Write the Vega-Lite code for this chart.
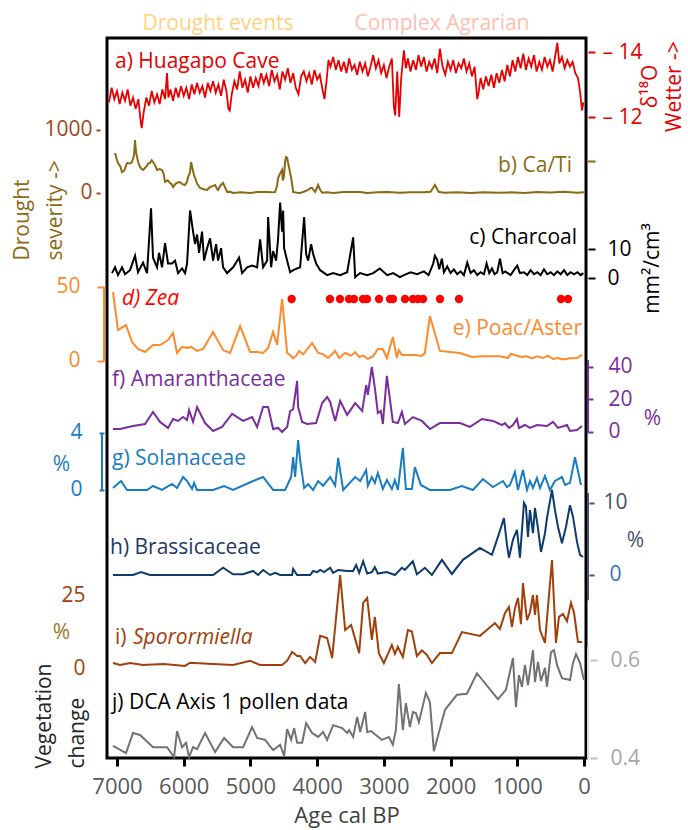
{
"$schema": "https://vega.github.io/schema/vega-lite/v6.json",
"width": 479, "height": 720,
"autosize": "none",
"padding": {"left": 107, "top": 38, "right": 102, "bottom": 72},
"background": "white",
"config": {
  "font": "Open Sans",
  "view": {"stroke": "black", "strokeWidth": 3},
  "axis": {"grid": false, "domain": false, "labelFont": "Open Sans", "titleFont": "Open Sans", "labelFontSize": 21, "titleFontSize": 21, "titleFontWeight": "normal", "labelFlush": false, "labelOverlap": false, "tickWidth": 2},
  "axisX": {"labelColor": "#595959", "labelFontSize": 22, "titleFontSize": 22, "tickColor": "black", "tickWidth": 3, "tickSize": 8, "labelPadding": 10, "titleColor": "#404040", "titlePadding": 8},
  "text": {"font": "Open Sans", "fontSize": 21},
  "line": {"strokeWidth": 2}
},
"datasets": {
  "hua": [{"t":7120,"v":-12.45},{"t":7080,"v":-12.9},{"t":7040,"v":-12.55},{"t":7000,"v":-12.8},{"t":6960,"v":-12.4},{"t":6920,"v":-12.75},{"t":6880,"v":-12.5},{"t":6840,"v":-12.85},{"t":6800,"v":-12.35},{"t":6760,"v":-12.6},{"t":6720,"v":-12.25},{"t":6680,"v":-12.55},{"t":6650,"v":-11.95},{"t":6630,"v":-11.66},{"t":6600,"v":-12.15},{"t":6560,"v":-12.6},{"t":6520,"v":-12.35},{"t":6480,"v":-12.8},{"t":6440,"v":-12.45},{"t":6400,"v":-12.7},{"t":6360,"v":-12.4},{"t":6320,"v":-12.85},{"t":6280,"v":-12.55},{"t":6250,"v":-13.35},{"t":6230,"v":-12.6},{"t":6200,"v":-12.85},{"t":6160,"v":-12.5},{"t":6120,"v":-12.9},{"t":6080,"v":-12.6},{"t":6040,"v":-12.95},{"t":6000,"v":-12.65},{"t":5960,"v":-12.9},{"t":5920,"v":-12.55},{"t":5880,"v":-13.0},{"t":5840,"v":-12.7},{"t":5800,"v":-13.05},{"t":5760,"v":-12.75},{"t":5720,"v":-12.95},{"t":5680,"v":-12.6},{"t":5640,"v":-13.05},{"t":5600,"v":-12.8},{"t":5560,"v":-13.1},{"t":5520,"v":-12.75},{"t":5480,"v":-13.0},{"t":5440,"v":-12.65},{"t":5400,"v":-13.15},{"t":5360,"v":-12.8},{"t":5330,"v":-12.25},{"t":5310,"v":-12.2},{"t":5280,"v":-12.7},{"t":5240,"v":-13.1},{"t":5200,"v":-12.85},{"t":5160,"v":-13.4},{"t":5120,"v":-12.9},{"t":5080,"v":-13.15},{"t":5040,"v":-12.75},{"t":5000,"v":-13.25},{"t":4960,"v":-12.9},{"t":4920,"v":-13.2},{"t":4880,"v":-12.95},{"t":4840,"v":-13.35},{"t":4800,"v":-13.05},{"t":4760,"v":-13.3},{"t":4720,"v":-12.95},{"t":4680,"v":-13.45},{"t":4640,"v":-13.1},{"t":4600,"v":-13.3},{"t":4560,"v":-12.85},{"t":4520,"v":-13.4},{"t":4480,"v":-13.15},{"t":4440,"v":-13.5},{"t":4400,"v":-13.05},{"t":4360,"v":-13.35},{"t":4320,"v":-12.9},{"t":4280,"v":-12.7},{"t":4240,"v":-13.25},{"t":4200,"v":-13.4},{"t":4160,"v":-13.1},{"t":4120,"v":-13.35},{"t":4080,"v":-13.0},{"t":4040,"v":-13.45},{"t":4000,"v":-13.15},{"t":3960,"v":-13.3},{"t":3920,"v":-12.85},{"t":3890,"v":-12.55},{"t":3860,"v":-13.1},{"t":3830,"v":-13.75},{"t":3800,"v":-13.55},{"t":3760,"v":-13.85},{"t":3720,"v":-13.45},{"t":3680,"v":-13.75},{"t":3640,"v":-13.4},{"t":3600,"v":-13.7},{"t":3560,"v":-13.35},{"t":3520,"v":-13.8},{"t":3480,"v":-13.45},{"t":3440,"v":-13.6},{"t":3400,"v":-13.3},{"t":3360,"v":-13.7},{"t":3320,"v":-13.4},{"t":3280,"v":-13.65},{"t":3240,"v":-13.25},{"t":3200,"v":-13.55},{"t":3160,"v":-13.9},{"t":3120,"v":-13.5},{"t":3080,"v":-13.75},{"t":3040,"v":-13.35},{"t":3000,"v":-13.6},{"t":2960,"v":-13.2},{"t":2920,"v":-13.55},{"t":2880,"v":-13.8},{"t":2850,"v":-12.3},{"t":2830,"v":-12.05},{"t":2800,"v":-13.4},{"t":2770,"v":-12.0},{"t":2740,"v":-13.2},{"t":2700,"v":-14.05},{"t":2670,"v":-13.5},{"t":2640,"v":-13.8},{"t":2600,"v":-13.4},{"t":2560,"v":-13.75},{"t":2520,"v":-13.45},{"t":2480,"v":-13.9},{"t":2440,"v":-13.55},{"t":2400,"v":-13.85},{"t":2360,"v":-13.4},{"t":2320,"v":-13.7},{"t":2280,"v":-13.5},{"t":2240,"v":-13.8},{"t":2200,"v":-13.35},{"t":2160,"v":-14.1},{"t":2120,"v":-13.55},{"t":2080,"v":-13.3},{"t":2040,"v":-13.7},{"t":2000,"v":-13.45},{"t":1960,"v":-13.75},{"t":1920,"v":-13.35},{"t":1880,"v":-13.65},{"t":1840,"v":-13.5},{"t":1800,"v":-13.8},{"t":1760,"v":-13.4},{"t":1720,"v":-13.65},{"t":1680,"v":-13.25},{"t":1640,"v":-13.55},{"t":1600,"v":-12.55},{"t":1580,"v":-12.75},{"t":1550,"v":-13.2},{"t":1510,"v":-12.85},{"t":1470,"v":-13.25},{"t":1430,"v":-12.95},{"t":1390,"v":-13.3},{"t":1350,"v":-12.9},{"t":1310,"v":-13.35},{"t":1270,"v":-13.05},{"t":1230,"v":-13.45},{"t":1190,"v":-13.1},{"t":1150,"v":-13.6},{"t":1110,"v":-13.25},{"t":1070,"v":-13.75},{"t":1030,"v":-13.4},{"t":990,"v":-13.85},{"t":950,"v":-13.5},{"t":910,"v":-13.95},{"t":870,"v":-13.45},{"t":830,"v":-13.8},{"t":790,"v":-13.55},{"t":750,"v":-13.9},{"t":710,"v":-13.4},{"t":670,"v":-13.7},{"t":630,"v":-13.45},{"t":590,"v":-13.85},{"t":550,"v":-13.55},{"t":510,"v":-13.75},{"t":470,"v":-13.4},{"t":430,"v":-13.9},{"t":400,"v":-14.28},{"t":370,"v":-13.65},{"t":330,"v":-13.85},{"t":290,"v":-13.5},{"t":250,"v":-13.75},{"t":210,"v":-13.55},{"t":170,"v":-13.7},{"t":130,"v":-13.35},{"t":90,"v":-13.2},{"t":60,"v":-12.8},{"t":30,"v":-12.2},{"t":10,"v":-12.45}],
  "cati": [{"t":7030,"v":635},{"t":7000,"v":520},{"t":6985,"v":476},{"t":6950,"v":420},{"t":6925,"v":333},{"t":6890,"v":360},{"t":6850,"v":476},{"t":6800,"v":470},{"t":6775,"v":492},{"t":6745,"v":600},{"t":6730,"v":841},{"t":6715,"v":650},{"t":6700,"v":571},{"t":6680,"v":480},{"t":6655,"v":413},{"t":6630,"v":380},{"t":6610,"v":365},{"t":6560,"v":420},{"t":6530,"v":470},{"t":6506,"v":476},{"t":6480,"v":520},{"t":6460,"v":492},{"t":6430,"v":440},{"t":6400,"v":365},{"t":6360,"v":380},{"t":6325,"v":365},{"t":6300,"v":300},{"t":6280,"v":175},{"t":6240,"v":200},{"t":6205,"v":159},{"t":6180,"v":140},{"t":6160,"v":95},{"t":6120,"v":150},{"t":6080,"v":170},{"t":6056,"v":175},{"t":6020,"v":140},{"t":5980,"v":127},{"t":5950,"v":180},{"t":5935,"v":254},{"t":5905,"v":330},{"t":5890,"v":492},{"t":5875,"v":420},{"t":5850,"v":300},{"t":5830,"v":238},{"t":5800,"v":150},{"t":5755,"v":79},{"t":5700,"v":60},{"t":5650,"v":48},{"t":5620,"v":80},{"t":5605,"v":95},{"t":5570,"v":110},{"t":5530,"v":127},{"t":5500,"v":60},{"t":5485,"v":48},{"t":5450,"v":120},{"t":5410,"v":159},{"t":5380,"v":90},{"t":5350,"v":16},{"t":5300,"v":20},{"t":5260,"v":0},{"t":5150,"v":10},{"t":5005,"v":0},{"t":4900,"v":15},{"t":4750,"v":16},{"t":4680,"v":10},{"t":4630,"v":16},{"t":4600,"v":120},{"t":4585,"v":238},{"t":4560,"v":300},{"t":4525,"v":365},{"t":4515,"v":200},{"t":4500,"v":250},{"t":4480,"v":500},{"t":4465,"v":571},{"t":4450,"v":560},{"t":4435,"v":476},{"t":4410,"v":350},{"t":4390,"v":238},{"t":4370,"v":100},{"t":4360,"v":16},{"t":4300,"v":5},{"t":4255,"v":0},{"t":4200,"v":20},{"t":4135,"v":48},{"t":4100,"v":80},{"t":4075,"v":79},{"t":4050,"v":40},{"t":4030,"v":16},{"t":3985,"v":127},{"t":3960,"v":60},{"t":3925,"v":5},{"t":3850,"v":10},{"t":3760,"v":0},{"t":3600,"v":15},{"t":3355,"v":16},{"t":3250,"v":0},{"t":3100,"v":10},{"t":2950,"v":16},{"t":2760,"v":5},{"t":2600,"v":10},{"t":2400,"v":12},{"t":2300,"v":20},{"t":2235,"v":127},{"t":2180,"v":20},{"t":2100,"v":5},{"t":1900,"v":10},{"t":1700,"v":0},{"t":1500,"v":12},{"t":1300,"v":5},{"t":1100,"v":10},{"t":900,"v":0},{"t":700,"v":15},{"t":500,"v":8},{"t":300,"v":18},{"t":100,"v":5},{"t":0,"v":10}],
  "char": [{"t":7075,"v":1.7},{"t":7030,"v":3.7},{"t":6985,"v":1.0},{"t":6925,"v":3.7},{"t":6880,"v":1.3},{"t":6805,"v":2.7},{"t":6730,"v":7.7},{"t":6685,"v":2.0},{"t":6610,"v":5.3},{"t":6550,"v":1.7},{"t":6490,"v":24},{"t":6460,"v":7.0},{"t":6400,"v":3.7},{"t":6370,"v":8.7},{"t":6325,"v":3.7},{"t":6280,"v":12},{"t":6235,"v":5.0},{"t":6175,"v":5.0},{"t":6130,"v":6.0},{"t":6085,"v":1.7},{"t":6025,"v":3.3},{"t":5980,"v":1.7},{"t":5950,"v":5.0},{"t":5905,"v":23.3},{"t":5860,"v":16},{"t":5830,"v":11.7},{"t":5800,"v":15},{"t":5770,"v":8.7},{"t":5725,"v":16},{"t":5695,"v":6.0},{"t":5650,"v":10.3},{"t":5605,"v":13.7},{"t":5560,"v":6.0},{"t":5515,"v":11.7},{"t":5485,"v":6.0},{"t":5440,"v":10.3},{"t":5410,"v":3.7},{"t":5350,"v":1.7},{"t":5260,"v":3.7},{"t":5170,"v":7.0},{"t":5125,"v":1.7},{"t":5050,"v":3.7},{"t":4975,"v":4.3},{"t":4900,"v":3.7},{"t":4855,"v":13.3},{"t":4810,"v":3.7},{"t":4750,"v":6.0},{"t":4735,"v":21},{"t":4690,"v":3.7},{"t":4660,"v":9.3},{"t":4615,"v":6.0},{"t":4585,"v":13.7},{"t":4555,"v":26},{"t":4525,"v":16},{"t":4510,"v":23.3},{"t":4495,"v":10.3},{"t":4450,"v":6.0},{"t":4405,"v":2.0},{"t":4360,"v":2.7},{"t":4255,"v":3.7},{"t":4195,"v":21},{"t":4165,"v":8.3},{"t":4135,"v":6.0},{"t":4090,"v":11.7},{"t":4060,"v":8.3},{"t":4015,"v":5.0},{"t":3955,"v":2.7},{"t":3850,"v":1.0},{"t":3760,"v":1.7},{"t":3655,"v":1.0},{"t":3550,"v":2.0},{"t":3460,"v":14},{"t":3430,"v":0.3},{"t":3355,"v":1.7},{"t":3250,"v":1.0},{"t":3160,"v":1.7},{"t":3060,"v":3.3},{"t":2950,"v":1.0},{"t":2860,"v":1.7},{"t":2760,"v":0.3},{"t":2700,"v":1.0},{"t":2600,"v":2.0},{"t":2500,"v":1.3},{"t":2400,"v":2.3},{"t":2330,"v":1.0},{"t":2260,"v":5.0},{"t":2235,"v":7.7},{"t":2200,"v":6.3},{"t":2170,"v":3.0},{"t":2130,"v":6.7},{"t":2100,"v":2.0},{"t":2050,"v":4.0},{"t":2000,"v":1.7},{"t":1950,"v":3.0},{"t":1900,"v":1.3},{"t":1850,"v":2.3},{"t":1800,"v":1.0},{"t":1750,"v":5.3},{"t":1700,"v":1.7},{"t":1650,"v":2.7},{"t":1600,"v":1.0},{"t":1550,"v":2.0},{"t":1500,"v":1.3},{"t":1460,"v":5.0},{"t":1420,"v":1.7},{"t":1380,"v":3.3},{"t":1340,"v":1.3},{"t":1300,"v":2.0},{"t":1260,"v":6.7},{"t":1220,"v":1.7},{"t":1180,"v":2.3},{"t":1100,"v":1.0},{"t":1050,"v":2.7},{"t":1000,"v":4.3},{"t":960,"v":1.7},{"t":900,"v":2.0},{"t":850,"v":1.0},{"t":800,"v":2.7},{"t":750,"v":1.3},{"t":700,"v":2.0},{"t":650,"v":1.0},{"t":600,"v":3.0},{"t":550,"v":1.3},{"t":500,"v":2.0},{"t":450,"v":1.0},{"t":400,"v":2.3},{"t":350,"v":1.3},{"t":300,"v":2.7},{"t":250,"v":1.0},{"t":200,"v":2.0},{"t":150,"v":1.3},{"t":100,"v":2.0},{"t":50,"v":1.0},{"t":10,"v":1.7}],
  "zea": [{"t":4382},{"t":3808},{"t":3658},{"t":3523},{"t":3448},{"t":3313},{"t":3253},{"t":3073},{"t":2908},{"t":2863},{"t":2683},{"t":2563},{"t":2488},{"t":2413},{"t":2159},{"t":1874},{"t":345},{"t":240}],
  "poac": [{"t":7060,"v":46.6},{"t":6985,"v":20.9},{"t":6865,"v":24.3},{"t":6775,"v":12.8},{"t":6685,"v":8.1},{"t":6580,"v":6.1},{"t":6460,"v":10.8},{"t":6355,"v":10.8},{"t":6235,"v":14.2},{"t":6160,"v":18.9},{"t":6100,"v":5.4},{"t":6025,"v":9.5},{"t":5950,"v":8.8},{"t":5890,"v":9.5},{"t":5800,"v":6.8},{"t":5710,"v":8.1},{"t":5560,"v":19.6},{"t":5410,"v":7.4},{"t":5305,"v":5.4},{"t":5155,"v":23.6},{"t":5005,"v":6.1},{"t":4900,"v":6.1},{"t":4810,"v":5.4},{"t":4735,"v":8.8},{"t":4660,"v":19.6},{"t":4600,"v":10.8},{"t":4525,"v":41.9},{"t":4450,"v":5.4},{"t":4405,"v":4.1},{"t":4360,"v":2.0},{"t":4315,"v":3.6},{"t":4270,"v":6.8},{"t":4210,"v":4.5},{"t":4075,"v":12.2},{"t":3985,"v":5.4},{"t":3910,"v":4.5},{"t":3835,"v":2.0},{"t":3730,"v":6.8},{"t":3670,"v":2.0},{"t":3580,"v":5.4},{"t":3490,"v":3.6},{"t":3430,"v":5.9},{"t":3370,"v":2.7},{"t":3310,"v":3.6},{"t":3240,"v":1.4},{"t":3160,"v":3.2},{"t":3090,"v":8.1},{"t":3015,"v":8.1},{"t":2955,"v":2.0},{"t":2865,"v":16.2},{"t":2805,"v":2.0},{"t":2775,"v":7.4},{"t":2730,"v":4.1},{"t":2700,"v":4.1},{"t":2640,"v":4.1},{"t":2535,"v":4.1},{"t":2430,"v":3.4},{"t":2385,"v":5.4},{"t":2310,"v":30.4},{"t":2160,"v":6.8},{"t":2010,"v":6.1},{"t":1860,"v":5.4},{"t":1680,"v":2.7},{"t":1515,"v":3.2},{"t":1260,"v":3.2},{"t":1140,"v":2.0},{"t":1095,"v":5.0},{"t":1005,"v":3.6},{"t":930,"v":2.7},{"t":855,"v":3.2},{"t":780,"v":1.8},{"t":705,"v":3.2},{"t":615,"v":2.0},{"t":540,"v":3.6},{"t":465,"v":1.4},{"t":390,"v":2.0},{"t":315,"v":1.0},{"t":210,"v":1.8},{"t":105,"v":2.0},{"t":30,"v":4.1}],
  "amar": [{"t":7060,"v":1.8},{"t":6955,"v":1.8},{"t":6760,"v":3.7},{"t":6580,"v":4.9},{"t":6460,"v":12.3},{"t":6355,"v":6.2},{"t":6235,"v":2.5},{"t":6160,"v":8.0},{"t":6085,"v":6.8},{"t":6010,"v":9.2},{"t":5950,"v":7.4},{"t":5920,"v":13.5},{"t":5860,"v":6.2},{"t":5800,"v":15.4},{"t":5680,"v":5.5},{"t":5560,"v":0.6},{"t":5425,"v":3.1},{"t":5275,"v":11.1},{"t":5110,"v":6.8},{"t":4975,"v":9.2},{"t":4900,"v":3.1},{"t":4810,"v":15.4},{"t":4735,"v":15.4},{"t":4660,"v":1.8},{"t":4585,"v":2.5},{"t":4525,"v":0},{"t":4450,"v":3.1},{"t":4405,"v":12.9},{"t":4360,"v":14},{"t":4300,"v":31.4},{"t":4285,"v":15.4},{"t":4225,"v":6.2},{"t":4150,"v":4.9},{"t":4015,"v":5.5},{"t":3925,"v":17.8},{"t":3850,"v":21.5},{"t":3805,"v":18.5},{"t":3730,"v":6.8},{"t":3655,"v":19.1},{"t":3550,"v":10.5},{"t":3430,"v":17.8},{"t":3325,"v":12.9},{"t":3265,"v":28.9},{"t":3240,"v":22.8},{"t":3180,"v":40},{"t":3135,"v":27.1},{"t":3090,"v":11.7},{"t":3045,"v":12.9},{"t":3015,"v":4.9},{"t":2955,"v":34.5},{"t":2865,"v":6.2},{"t":2790,"v":5.5},{"t":2730,"v":12.3},{"t":2685,"v":4.9},{"t":2565,"v":9.2},{"t":2430,"v":6.8},{"t":2310,"v":1.8},{"t":2160,"v":5.5},{"t":1860,"v":5.5},{"t":1710,"v":3.1},{"t":1530,"v":8.0},{"t":1365,"v":6.8},{"t":1230,"v":4.3},{"t":1185,"v":5.5},{"t":1125,"v":2.5},{"t":1065,"v":4.3},{"t":1005,"v":8.0},{"t":975,"v":2.5},{"t":885,"v":4.3},{"t":810,"v":2.5},{"t":705,"v":4.3},{"t":555,"v":3.7},{"t":465,"v":6.2},{"t":390,"v":2.5},{"t":255,"v":4.3},{"t":210,"v":0.6},{"t":105,"v":1.2},{"t":30,"v":3.7}],
  "sola": [{"t":7060,"v":0.14},{"t":6940,"v":0.63},{"t":6850,"v":0},{"t":6550,"v":0},{"t":6460,"v":0.28},{"t":6325,"v":0},{"t":6175,"v":0.42},{"t":6100,"v":0.14},{"t":6010,"v":0.91},{"t":5950,"v":0.63},{"t":5875,"v":0.07},{"t":5845,"v":0.5},{"t":5800,"v":0},{"t":5560,"v":0},{"t":5395,"v":0.28},{"t":5260,"v":0},{"t":4960,"v":0.63},{"t":4810,"v":0.91},{"t":4660,"v":0},{"t":4480,"v":0},{"t":4390,"v":0.91},{"t":4360,"v":2.3},{"t":4330,"v":0.91},{"t":4285,"v":3.5},{"t":4255,"v":2.1},{"t":4195,"v":0.14},{"t":4135,"v":0.4},{"t":4060,"v":0},{"t":3985,"v":0.63},{"t":3910,"v":0.3},{"t":3805,"v":0.91},{"t":3730,"v":0.3},{"t":3685,"v":2.25},{"t":3610,"v":0},{"t":3430,"v":0.91},{"t":3355,"v":0.63},{"t":3265,"v":1.4},{"t":3240,"v":0.3},{"t":3180,"v":0.91},{"t":3135,"v":0.5},{"t":3090,"v":1.2},{"t":3015,"v":0.07},{"t":2955,"v":0.7},{"t":2880,"v":0.07},{"t":2835,"v":0.7},{"t":2790,"v":0},{"t":2715,"v":2.95},{"t":2670,"v":0.07},{"t":2580,"v":0.07},{"t":2535,"v":1.6},{"t":2445,"v":0.35},{"t":2310,"v":0},{"t":2010,"v":0},{"t":1830,"v":0.28},{"t":1665,"v":0},{"t":1515,"v":0.77},{"t":1365,"v":0.2},{"t":1215,"v":0.63},{"t":1155,"v":0.2},{"t":1110,"v":0.35},{"t":1035,"v":1.26},{"t":990,"v":0},{"t":915,"v":1.4},{"t":855,"v":0},{"t":810,"v":0.63},{"t":765,"v":0.14},{"t":705,"v":0.84},{"t":660,"v":0.14},{"t":585,"v":0.98},{"t":510,"v":0},{"t":435,"v":0.63},{"t":330,"v":0.91},{"t":285,"v":0.35},{"t":210,"v":0.5},{"t":135,"v":2.3},{"t":45,"v":0.35}],
  "bras": [{"t":7060,"v":0},{"t":6760,"v":0},{"t":6640,"v":0.4},{"t":6505,"v":0},{"t":5560,"v":0},{"t":5410,"v":1.0},{"t":5260,"v":0.1},{"t":5110,"v":0.1},{"t":4960,"v":0.56},{"t":4885,"v":0},{"t":4810,"v":0.7},{"t":4705,"v":0},{"t":4630,"v":0.3},{"t":4555,"v":0},{"t":4375,"v":0},{"t":4360,"v":0.83},{"t":4300,"v":0},{"t":4105,"v":0},{"t":4060,"v":0.56},{"t":4000,"v":0.4},{"t":3955,"v":0.7},{"t":3895,"v":0.4},{"t":3805,"v":1.0},{"t":3760,"v":0.3},{"t":3685,"v":0.7},{"t":3550,"v":0.56},{"t":3460,"v":0.56},{"t":3415,"v":1.4},{"t":3370,"v":0.3},{"t":3310,"v":1.9},{"t":3250,"v":0.2},{"t":3180,"v":0.4},{"t":3135,"v":1.1},{"t":3090,"v":0.2},{"t":2955,"v":0.4},{"t":2835,"v":0},{"t":2730,"v":1.0},{"t":2685,"v":0.7},{"t":2565,"v":1.9},{"t":2505,"v":0.1},{"t":2385,"v":1.0},{"t":2280,"v":0},{"t":2130,"v":2.1},{"t":1980,"v":0.14},{"t":1815,"v":2.1},{"t":1560,"v":3.75},{"t":1380,"v":2.8},{"t":1290,"v":5.3},{"t":1200,"v":7.9},{"t":1155,"v":4.2},{"t":1125,"v":2.4},{"t":1065,"v":4.9},{"t":1005,"v":6.25},{"t":960,"v":2.4},{"t":900,"v":10.0},{"t":870,"v":9.5},{"t":840,"v":5.3},{"t":810,"v":9.0},{"t":765,"v":5.8},{"t":735,"v":9.3},{"t":690,"v":6.5},{"t":645,"v":3.2},{"t":585,"v":5.8},{"t":555,"v":7.9},{"t":480,"v":11.8},{"t":435,"v":9.0},{"t":390,"v":6.7},{"t":330,"v":4.4},{"t":270,"v":6.7},{"t":210,"v":9.7},{"t":165,"v":8.1},{"t":105,"v":4.6},{"t":60,"v":2.8},{"t":15,"v":2.5}],
  "spor": [{"t":7060,"v":1.7},{"t":6955,"v":1.0},{"t":6800,"v":1.7},{"t":6610,"v":1.0},{"t":6300,"v":1.4},{"t":5980,"v":0.7},{"t":5905,"v":1.8},{"t":5560,"v":1.4},{"t":5260,"v":1.0},{"t":5005,"v":2.5},{"t":4855,"v":1.0},{"t":4525,"v":1.0},{"t":4450,"v":2.5},{"t":4375,"v":5.5},{"t":4300,"v":4.1},{"t":4255,"v":4.1},{"t":4180,"v":1.7},{"t":4105,"v":3.8},{"t":4030,"v":2.1},{"t":3955,"v":11.0},{"t":3850,"v":10.3},{"t":3775,"v":3.4},{"t":3655,"v":31.8},{"t":3580,"v":13.0},{"t":3490,"v":14.7},{"t":3370,"v":5.1},{"t":3310,"v":22.3},{"t":3250,"v":24.0},{"t":3180,"v":9.6},{"t":3135,"v":17.5},{"t":3075,"v":5.1},{"t":3000,"v":1.7},{"t":2880,"v":7.9},{"t":2835,"v":4.8},{"t":2790,"v":7.2},{"t":2715,"v":3.8},{"t":2640,"v":13.0},{"t":2580,"v":12.5},{"t":2505,"v":4.1},{"t":2430,"v":6.0},{"t":2355,"v":4.5},{"t":2280,"v":1.7},{"t":2160,"v":5.1},{"t":1980,"v":5.1},{"t":1830,"v":12.3},{"t":1560,"v":11.0},{"t":1335,"v":15.4},{"t":1260,"v":13.4},{"t":1185,"v":18.8},{"t":1125,"v":20.9},{"t":1080,"v":14.0},{"t":1035,"v":20.5},{"t":990,"v":24.0},{"t":945,"v":15.0},{"t":915,"v":29.1},{"t":855,"v":16.4},{"t":810,"v":19.0},{"t":765,"v":25.0},{"t":735,"v":18.2},{"t":705,"v":25.0},{"t":660,"v":13.0},{"t":585,"v":8.6},{"t":540,"v":20.9},{"t":480,"v":37.0},{"t":420,"v":8.6},{"t":375,"v":17.5},{"t":315,"v":18.5},{"t":255,"v":16.0},{"t":195,"v":22.3},{"t":150,"v":19.0},{"t":90,"v":8.9},{"t":30,"v":8.9}],
  "dca": [{"t":7060,"v":0.4245},{"t":6865,"v":0.41},{"t":6760,"v":0.451},{"t":6655,"v":0.447},{"t":6460,"v":0.422},{"t":6250,"v":0.422},{"t":6145,"v":0.402},{"t":6100,"v":0.455},{"t":6025,"v":0.422},{"t":5965,"v":0.431},{"t":5920,"v":0.402},{"t":5860,"v":0.422},{"t":5800,"v":0.418},{"t":5680,"v":0.451},{"t":5530,"v":0.412},{"t":5395,"v":0.441},{"t":5260,"v":0.422},{"t":5110,"v":0.422},{"t":4975,"v":0.463},{"t":4900,"v":0.441},{"t":4780,"v":0.437},{"t":4660,"v":0.416},{"t":4555,"v":0.427},{"t":4495,"v":0.404},{"t":4450,"v":0.459},{"t":4390,"v":0.437},{"t":4345,"v":0.461},{"t":4300,"v":0.431},{"t":4225,"v":0.431},{"t":4165,"v":0.471},{"t":4075,"v":0.451},{"t":3985,"v":0.443},{"t":3910,"v":0.453},{"t":3850,"v":0.437},{"t":3760,"v":0.467},{"t":3625,"v":0.461},{"t":3550,"v":0.451},{"t":3520,"v":0.457},{"t":3460,"v":0.443},{"t":3400,"v":0.484},{"t":3355,"v":0.453},{"t":3280,"v":0.494},{"t":3250,"v":0.453},{"t":3190,"v":0.455},{"t":3120,"v":0.447},{"t":3030,"v":0.437},{"t":2925,"v":0.443},{"t":2865,"v":0.427},{"t":2820,"v":0.457},{"t":2775,"v":0.551},{"t":2715,"v":0.457},{"t":2670,"v":0.512},{"t":2610,"v":0.463},{"t":2565,"v":0.494},{"t":2520,"v":0.492},{"t":2475,"v":0.473},{"t":2370,"v":0.533},{"t":2310,"v":0.514},{"t":2250,"v":0.414},{"t":2085,"v":0.498},{"t":1905,"v":0.529},{"t":1755,"v":0.531},{"t":1605,"v":0.573},{"t":1290,"v":0.52},{"t":1170,"v":0.539},{"t":1065,"v":0.604},{"t":1020,"v":0.504},{"t":975,"v":0.569},{"t":930,"v":0.545},{"t":885,"v":0.59},{"t":840,"v":0.549},{"t":765,"v":0.62},{"t":735,"v":0.555},{"t":690,"v":0.596},{"t":645,"v":0.557},{"t":585,"v":0.584},{"t":555,"v":0.545},{"t":495,"v":0.616},{"t":450,"v":0.62},{"t":405,"v":0.59},{"t":330,"v":0.563},{"t":210,"v":0.559},{"t":165,"v":0.594},{"t":120,"v":0.612},{"t":60,"v":0.594},{"t":0,"v":0.559}]
},
"layer": [
  {"data": {"name": "hua"}, "resolve": {"axis": {"y": "independent"}},
   "layer": [
    {"mark": {"type": "line", "color": "#E60000", "strokeWidth": 1.8},
     "encoding": {
       "x": {"field": "t", "type": "quantitative", "scale": {"domain": [-30, 7150], "reverse": true, "nice": false, "zero": false}, "axis": {"values": [0,1000,2000,3000,4000,5000,6000,7000], "format": "d", "title": "Age cal BP"}},
       "y": {"field": "v", "type": "quantitative", "scale": {"domain": [-14.4308, 7.723], "reverse": true, "nice": false, "zero": false},
       "axis": {"orient": "right", "values": [-14, -12], "offset": 2, "tickSize": 7, "tickColor": "#E60000", "labelColor": "#E60000", "labelPadding": 7, "labelExpr": "'– ' + abs(datum.value)", "title": ["δ¹⁸O", "Wetter ->"], "titleColor": "#E60000", "titleAngle": 270, "titleAlign": "center", "titleBaseline": "top", "titleX": 51, "titleY": 48, "titleLineHeight": 24}}}},
    {"data": {"values": [{}]}, "mark": {"type": "text", "color": "#E60000", "align": "left", "baseline": "middle"},
     "encoding": {
       "x": {"datum": 7030, "type": "quantitative", "scale": {"domain": [-30, 7150], "reverse": true, "nice": false, "zero": false}, "axis": {"values": [0,1000,2000,3000,4000,5000,6000,7000], "format": "d", "title": "Age cal BP"}},
       "y": {"datum": -13.69, "scale": {"domain": [-14.4308, 7.723], "reverse": true, "nice": false, "zero": false}, "axis": null}, "text": {"value": "a) Huagapo Cave"}}},
    {"data": {"values": [{}]}, "mark": {"type": "text", "color": "#FFD27F", "align": "center", "baseline": "middle"},
     "encoding": {
       "x": {"datum": 5486, "type": "quantitative", "scale": {"domain": [-30, 7150], "reverse": true, "nice": false, "zero": false}, "axis": {"values": [0,1000,2000,3000,4000,5000,6000,7000], "format": "d", "title": "Age cal BP"}},
       "y": {"datum": -14.862, "scale": {"domain": [-14.4308, 7.723], "reverse": true, "nice": false, "zero": false}, "axis": null}, "text": {"value": "Drought events"}}},
    {"data": {"values": [{}]}, "mark": {"type": "text", "color": "#FFBFB3", "align": "center", "baseline": "middle"},
     "encoding": {
       "x": {"datum": 2129, "type": "quantitative", "scale": {"domain": [-30, 7150], "reverse": true, "nice": false, "zero": false}, "axis": {"values": [0,1000,2000,3000,4000,5000,6000,7000], "format": "d", "title": "Age cal BP"}},
       "y": {"datum": -14.862, "scale": {"domain": [-14.4308, 7.723], "reverse": true, "nice": false, "zero": false}, "axis": null}, "text": {"value": "Complex Agrarian"}}}
   ]},
  {"data": {"name": "cati"}, "resolve": {"axis": {"y": "independent"}},
   "layer": [
    {"mark": {"type": "line", "color": "#8C6A14", "strokeWidth": 2},
     "encoding": {
       "x": {"field": "t", "type": "quantitative", "scale": {"domain": [-30, 7150], "reverse": true, "nice": false, "zero": false}, "axis": {"values": [0,1000,2000,3000,4000,5000,6000,7000], "format": "d", "title": "Age cal BP"}},
       "y": {"field": "v", "type": "quantitative", "scale": {"domain": [-8968.3, 2460.3], "nice": false, "zero": false},
       "axis": {"orient": "left", "values": [0, 1000], "format": "d", "offset": 7, "tickSize": 4, "tickColor": "#A0471A", "labelColor": "#A0471A", "labelPadding": 4, "title": ["Drought", "severity ->"], "titleColor": "#8C6A14", "titleAngle": 270, "titleAlign": "left", "titleBaseline": "top", "titleX": -89, "titleY": 222, "titleLineHeight": 33}}}},
    {"data": {"values": [{}]}, "mark": {"type": "text", "color": "#8C6A14", "align": "right", "baseline": "middle"},
     "encoding": {
       "x": {"datum": 180, "type": "quantitative", "scale": {"domain": [-30, 7150], "reverse": true, "nice": false, "zero": false}, "axis": {"values": [0,1000,2000,3000,4000,5000,6000,7000], "format": "d", "title": "Age cal BP"}},
       "y": {"datum": 429, "scale": {"domain": [-8968.3, 2460.3], "nice": false, "zero": false},
       "axis": {"orient": "right", "values": [500], "labels": false, "offset": 1, "tickSize": 8, "tickColor": "#8C6A14", "title": null}}, "text": {"value": "b) Ca/Ti"}}}
   ]},
  {"data": {"name": "char"}, "resolve": {"axis": {"y": "independent"}},
   "layer": [
    {"mark": {"type": "line", "color": "black", "strokeWidth": 2},
     "encoding": {
       "x": {"field": "t", "type": "quantitative", "scale": {"domain": [-30, 7150], "reverse": true, "nice": false, "zero": false}, "axis": {"values": [0,1000,2000,3000,4000,5000,6000,7000], "format": "d", "title": "Age cal BP"}},
       "y": {"field": "v", "type": "quantitative", "scale": {"domain": [-165.5, 82.76], "nice": false, "zero": false},
       "axis": {"orient": "right", "values": [0, 10], "offset": 2, "tickSize": 7, "tickColor": "black", "labelColor": "black", "labelPadding": 12, "title": "mm²/cm³", "titleColor": "black", "titleAngle": 270, "titleAlign": "center", "titleBaseline": "top", "titleX": 53, "titleY": 230}}}},
    {"data": {"values": [{}]}, "mark": {"type": "text", "color": "black", "align": "right", "baseline": "middle"},
     "encoding": {
       "x": {"datum": 105, "type": "quantitative", "scale": {"domain": [-30, 7150], "reverse": true, "nice": false, "zero": false}, "axis": {"values": [0,1000,2000,3000,4000,5000,6000,7000], "format": "d", "title": "Age cal BP"}},
       "y": {"datum": 13.8, "scale": {"domain": [-165.5, 82.76], "nice": false, "zero": false}, "axis": null}, "text": {"value": "c) Charcoal"}}}
   ]},
  {"data": {"name": "zea"}, "resolve": {"axis": {"y": "independent"}},
   "layer": [
    {"mark": {"type": "circle", "color": "#FF0000", "size": 70, "opacity": 1},
     "encoding": {
       "x": {"field": "t", "type": "quantitative", "scale": {"domain": [-30, 7150], "reverse": true, "nice": false, "zero": false}, "axis": {"values": [0,1000,2000,3000,4000,5000,6000,7000], "format": "d", "title": "Age cal BP"}},
       "y": {"datum": 1, "scale": {"domain": [-3.59, 3.61], "nice": false, "zero": false}, "axis": null}}},
    {"data": {"values": [{}]}, "mark": {"type": "text", "color": "#FF0000", "align": "left", "baseline": "middle", "fontStyle": "italic"},
     "encoding": {
       "x": {"datum": 6925, "type": "quantitative", "scale": {"domain": [-30, 7150], "reverse": true, "nice": false, "zero": false}, "axis": {"values": [0,1000,2000,3000,4000,5000,6000,7000], "format": "d", "title": "Age cal BP"}},
       "y": {"datum": 1, "scale": {"domain": [-3.59, 3.61], "nice": false, "zero": false}, "axis": null}, "text": {"value": "d) Zea"}}}
   ]},
  {"data": {"name": "poac"}, "resolve": {"axis": {"y": "independent"}},
   "layer": [
    {"mark": {"type": "line", "color": "#FF8A2B", "strokeWidth": 2},
     "encoding": {
       "x": {"field": "t", "type": "quantitative", "scale": {"domain": [-30, 7150], "reverse": true, "nice": false, "zero": false}, "axis": {"values": [0,1000,2000,3000,4000,5000,6000,7000], "format": "d", "title": "Age cal BP"}},
       "y": {"field": "v", "type": "quantitative", "scale": {"domain": [-268.24, 218.24], "nice": false, "zero": false},
       "axis": {"orient": "left", "values": [0, 50], "offset": 3, "tickSize": 7, "tickColor": "#FF8A2B", "labelColor": "#FF8A2B", "labelPadding": 17, "title": null}}}},
    {"data": {"values": [{}]}, "mark": {"type": "rule", "color": "#FF8A2B", "strokeWidth": 2, "xOffset": -3},
     "encoding": {
       "x": {"datum": 7150, "type": "quantitative", "scale": {"domain": [-30, 7150], "reverse": true, "nice": false, "zero": false}, "axis": {"values": [0,1000,2000,3000,4000,5000,6000,7000], "format": "d", "title": "Age cal BP"}},
       "y": {"datum": 0, "scale": {"domain": [-268.24, 218.24], "nice": false, "zero": false}, "axis": null}, "y2": {"datum": 50}}},
    {"data": {"values": [{}]}, "mark": {"type": "text", "color": "#FF8A2B", "align": "right", "baseline": "middle"},
     "encoding": {
       "x": {"datum": 30, "type": "quantitative", "scale": {"domain": [-30, 7150], "reverse": true, "nice": false, "zero": false}, "axis": {"values": [0,1000,2000,3000,4000,5000,6000,7000], "format": "d", "title": "Age cal BP"}},
       "y": {"datum": 21.6, "scale": {"domain": [-268.24, 218.24], "nice": false, "zero": false}, "axis": null}, "text": {"value": "e) Poac/Aster"}}}
   ]},
  {"data": {"name": "amar"}, "resolve": {"axis": {"y": "independent"}},
   "layer": [
    {"mark": {"type": "line", "color": "#7A2E9E", "strokeWidth": 2},
     "encoding": {
       "x": {"field": "t", "type": "quantitative", "scale": {"domain": [-30, 7150], "reverse": true, "nice": false, "zero": false}, "axis": {"values": [0,1000,2000,3000,4000,5000,6000,7000], "format": "d", "title": "Age cal BP"}},
       "y": {"field": "v", "type": "quantitative", "scale": {"domain": [-200.62, 242.46], "nice": false, "zero": false},
       "axis": {"orient": "right", "values": [0, 20, 40], "offset": 1, "tickSize": 6, "tickColor": "#7A2E9E", "labelColor": "#7A2E9E", "labelPadding": 15, "title": "%", "titleColor": "#7A2E9E", "titleAngle": 0, "titleAlign": "center", "titleBaseline": "middle", "titleX": 65, "titleY": 380}}}},
    {"data": {"values": [{}]}, "mark": {"type": "rule", "color": "#7A2E9E", "strokeWidth": 2, "xOffset": 2},
     "encoding": {
       "x": {"datum": -30, "type": "quantitative", "scale": {"domain": [-30, 7150], "reverse": true, "nice": false, "zero": false}, "axis": {"values": [0,1000,2000,3000,4000,5000,6000,7000], "format": "d", "title": "Age cal BP"}},
       "y": {"datum": 0, "scale": {"domain": [-200.62, 242.46], "nice": false, "zero": false}, "axis": null}, "y2": {"datum": 44.3}}},
    {"data": {"values": [{}]}, "mark": {"type": "text", "color": "#7A2E9E", "align": "left", "baseline": "middle"},
     "encoding": {
       "x": {"datum": 7075, "type": "quantitative", "scale": {"domain": [-30, 7150], "reverse": true, "nice": false, "zero": false}, "axis": {"values": [0,1000,2000,3000,4000,5000,6000,7000], "format": "d", "title": "Age cal BP"}},
       "y": {"datum": 32, "scale": {"domain": [-200.62, 242.46], "nice": false, "zero": false}, "axis": null}, "text": {"value": "f) Amaranthaceae"}}}
   ]},
  {"data": {"name": "sola"}, "resolve": {"axis": {"y": "independent"}},
   "layer": [
    {"mark": {"type": "line", "color": "#1A7DC2", "strokeWidth": 2},
     "encoding": {
       "x": {"field": "t", "type": "quantitative", "scale": {"domain": [-30, 7150], "reverse": true, "nice": false, "zero": false}, "axis": {"values": [0,1000,2000,3000,4000,5000,6000,7000], "format": "d", "title": "Age cal BP"}},
       "y": {"field": "v", "type": "quantitative", "scale": {"domain": [-18.81, 31.72], "nice": false, "zero": false},
       "axis": {"orient": "left", "values": [0, 4], "offset": 3, "tickSize": 5, "tickColor": "#1A7DC2", "labelColor": "#1A7DC2", "labelPadding": 17, "title": "%", "titleColor": "#1A7DC2", "titleAngle": 0, "titleAlign": "center", "titleBaseline": "middle", "titleX": -43, "titleY": 426}}}},
    {"data": {"values": [{}]}, "mark": {"type": "rule", "color": "#1A7DC2", "strokeWidth": 2, "xOffset": -5},
     "encoding": {
       "x": {"datum": 7150, "type": "quantitative", "scale": {"domain": [-30, 7150], "reverse": true, "nice": false, "zero": false}, "axis": {"values": [0,1000,2000,3000,4000,5000,6000,7000], "format": "d", "title": "Age cal BP"}},
       "y": {"datum": 0, "scale": {"domain": [-18.81, 31.72], "nice": false, "zero": false}, "axis": null}, "y2": {"datum": 4}}},
    {"data": {"values": [{}]}, "mark": {"type": "text", "color": "#1A7DC2", "align": "left", "baseline": "middle"},
     "encoding": {
       "x": {"datum": 7075, "type": "quantitative", "scale": {"domain": [-30, 7150], "reverse": true, "nice": false, "zero": false}, "axis": {"values": [0,1000,2000,3000,4000,5000,6000,7000], "format": "d", "title": "Age cal BP"}},
       "y": {"datum": 2.18, "scale": {"domain": [-18.81, 31.72], "nice": false, "zero": false}, "axis": null}, "text": {"value": "g) Solanaceae"}}}
   ]},
  {"data": {"name": "bras"}, "resolve": {"axis": {"y": "independent"}},
   "layer": [
    {"mark": {"type": "line", "color": "#0F3B6C", "strokeWidth": 2},
     "encoding": {
       "x": {"field": "t", "type": "quantitative", "scale": {"domain": [-30, 7150], "reverse": true, "nice": false, "zero": false}, "axis": {"values": [0,1000,2000,3000,4000,5000,6000,7000], "format": "d", "title": "Age cal BP"}},
       "y": {"field": "v", "type": "quantitative", "scale": {"domain": [-25.42, 74.58], "nice": false, "zero": false},
       "axis": {"orient": "right", "values": [0, 10], "offset": 3, "tickSize": 5, "tickColor": "#44546A", "labelColor": {"condition": {"test": "datum.value == 0", "value": "#2E75B6"}, "value": "#44546A"}, "labelAlign": "center", "labelPadding": 21, "title": "%", "titleColor": "#44546A", "titleAngle": 0, "titleAlign": "center", "titleBaseline": "middle", "titleX": 46, "titleY": 502}}}},
    {"data": {"values": [{}]}, "mark": {"type": "rule", "color": "#44546A", "strokeWidth": 2, "xOffset": 2},
     "encoding": {
       "x": {"datum": -30, "type": "quantitative", "scale": {"domain": [-30, 7150], "reverse": true, "nice": false, "zero": false}, "axis": {"values": [0,1000,2000,3000,4000,5000,6000,7000], "format": "d", "title": "Age cal BP"}},
       "y": {"datum": -3.5, "scale": {"domain": [-25.42, 74.58], "nice": false, "zero": false}, "axis": null}, "y2": {"datum": 11.4}}},
    {"data": {"values": [{}]}, "mark": {"type": "text", "color": "#1F3864", "align": "left", "baseline": "middle"},
     "encoding": {
       "x": {"datum": 7105, "type": "quantitative", "scale": {"domain": [-30, 7150], "reverse": true, "nice": false, "zero": false}, "axis": {"values": [0,1000,2000,3000,4000,5000,6000,7000], "format": "d", "title": "Age cal BP"}},
       "y": {"datum": 3.75, "scale": {"domain": [-25.42, 74.58], "nice": false, "zero": false}, "axis": null}, "text": {"value": "h) Brassicaceae"}}}
   ]},
  {"data": {"name": "spor"}, "resolve": {"axis": {"y": "independent"}},
   "layer": [
    {"mark": {"type": "line", "color": "#A0410C", "strokeWidth": 2},
     "encoding": {
       "x": {"field": "t", "type": "quantitative", "scale": {"domain": [-30, 7150], "reverse": true, "nice": false, "zero": false}, "axis": {"values": [0,1000,2000,3000,4000,5000,6000,7000], "format": "d", "title": "Age cal BP"}},
       "y": {"field": "v", "type": "quantitative", "scale": {"domain": [-30.82, 215.75], "nice": false, "zero": false},
       "axis": {"orient": "left", "values": [0, 25], "ticks": false, "labelColor": "#A0410C", "labelPadding": 22, "title": "%", "titleColor": "#9C7A1E", "titleAngle": 0, "titleAlign": "center", "titleBaseline": "middle", "titleX": -46, "titleY": 594}}}},
    {"data": {"values": [{}]}, "mark": {"type": "text", "color": "#A0410C", "align": "left", "baseline": "middle"},
     "encoding": {
       "x": {"datum": 7030, "type": "quantitative", "scale": {"domain": [-30, 7150], "reverse": true, "nice": false, "zero": false}, "axis": {"values": [0,1000,2000,3000,4000,5000,6000,7000], "format": "d", "title": "Age cal BP"}},
       "y": {"datum": 10.3, "scale": {"domain": [-30.82, 215.75], "nice": false, "zero": false}, "axis": null}, "text": {"value": "i)"}}},
    {"data": {"values": [{}]}, "mark": {"type": "text", "color": "#A0410C", "align": "left", "baseline": "middle", "fontStyle": "italic"},
     "encoding": {
       "x": {"datum": 6760, "type": "quantitative", "scale": {"domain": [-30, 7150], "reverse": true, "nice": false, "zero": false}, "axis": {"values": [0,1000,2000,3000,4000,5000,6000,7000], "format": "d", "title": "Age cal BP"}},
       "y": {"datum": 10.3, "scale": {"domain": [-30.82, 215.75], "nice": false, "zero": false}, "axis": null}, "text": {"value": "Sporormiella"}}}
   ]},
  {"data": {"name": "dca"}, "resolve": {"axis": {"y": "independent"}},
   "layer": [
    {"mark": {"type": "line", "color": "#767171", "strokeWidth": 2},
     "encoding": {
       "x": {"field": "t", "type": "quantitative", "scale": {"domain": [-30, 7150], "reverse": true, "nice": false, "zero": false}, "axis": {"values": [0,1000,2000,3000,4000,5000,6000,7000], "format": "d", "title": "Age cal BP"}},
       "y": {"field": "v", "type": "quantitative", "scale": {"domain": [0.4, 1.8694], "nice": false, "zero": false},
       "axis": {"orient": "right", "values": [0.4, 0.6], "format": ".1f", "offset": 4, "tickSize": 7, "tickColor": "#BFBFBF", "labelColor": "#A6A6A6", "labelPadding": 13, "title": null}}}},
    {"data": {"values": [{}]}, "mark": {"type": "rule", "color": "#D9D9D9", "strokeWidth": 2, "xOffset": 2},
     "encoding": {
       "x": {"datum": -30, "type": "quantitative", "scale": {"domain": [-30, 7150], "reverse": true, "nice": false, "zero": false}, "axis": {"values": [0,1000,2000,3000,4000,5000,6000,7000], "format": "d", "title": "Age cal BP"}},
       "y": {"datum": 0.4, "scale": {"domain": [0.4, 1.8694], "nice": false, "zero": false}, "axis": null}, "y2": {"datum": 0.6265}}},
    {"data": {"values": [{}]}, "mark": {"type": "text", "color": "black", "align": "left", "baseline": "middle"},
     "encoding": {
       "x": {"datum": 7075, "type": "quantitative", "scale": {"domain": [-30, 7150], "reverse": true, "nice": false, "zero": false}, "axis": {"values": [0,1000,2000,3000,4000,5000,6000,7000], "format": "d", "title": "Age cal BP"}},
       "y": {"datum": 0.512, "scale": {"domain": [0.4, 1.8694], "nice": false, "zero": false},
       "axis": {"orient": "left", "labels": false, "ticks": false, "title": ["Vegetation", "change"], "titleColor": "#262626", "titleAngle": 270, "titleAlign": "left", "titleBaseline": "top", "titleX": -74, "titleY": 730, "titleLineHeight": 33}}, "text": {"value": "j) DCA Axis 1 pollen data"}}}
   ]}
],
"resolve": {"scale": {"y": "independent"}, "axis": {"y": "independent"}}
}
